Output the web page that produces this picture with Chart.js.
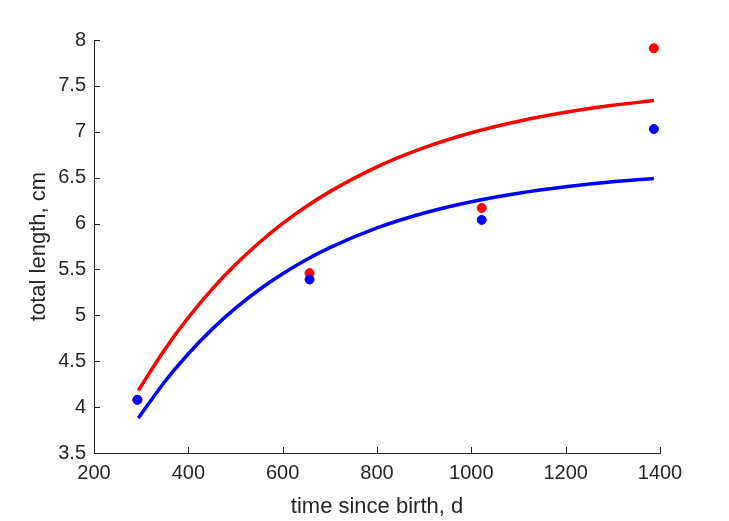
<!DOCTYPE html>
<html>
<head>
<meta charset="utf-8">
<script src="https://cdn.jsdelivr.net/npm/chart.js@4/dist/chart.umd.min.js"></script>
<style>
  html, body { margin: 0; padding: 0; background: #fff; }
  #wrap { width: 729px; height: 521px; }
</style>
</head>
<body>
<div id="wrap"><canvas id="growth-chart" width="729" height="521"></canvas></div>
<script>
// observed mean lengths at age
const sampleDays = [292, 657, 1022, 1387];
const redObserved = [4.08, 5.46, 6.17, 7.91];
const blueObserved = [4.08, 5.39, 6.04, 7.03];

// fitted growth curves
const curveDays = [294, 350, 400, 450, 500, 550, 600, 650, 700, 800, 900, 1000, 1100, 1200, 1300, 1387];
const redFit = [4.181, 4.628, 4.976, 5.283, 5.553, 5.791, 6.001, 6.186, 6.348, 6.618, 6.827, 6.989, 7.115, 7.212, 7.288, 7.340];
const blueFit = [3.880, 4.276, 4.581, 4.847, 5.078, 5.279, 5.453, 5.605, 5.737, 5.952, 6.115, 6.238, 6.331, 6.401, 6.455, 6.490];

const xTicks = [200, 400, 600, 800, 1000, 1200, 1400];
const yTicks = [3.5, 4, 4.5, 5, 5.5, 6, 6.5, 7, 7.5, 8];

const axisColor = '#262626';

function toPoints(xs, ys) {
    return xs.map((x, i) => ({ x: x, y: ys[i] }));
}

// MATLAB style ticks pointing into the plot
const innerTicks = {
    id: 'innerTicks',
    afterDraw(chart) {
        const ctx = chart.ctx;
        const xs = chart.scales.x;
        const ys = chart.scales.y;
        const len = 6;
        ctx.save();
        ctx.strokeStyle = axisColor;
        ctx.lineWidth = 1;
        ctx.beginPath();
        xTicks.forEach(v => {
            const px = Math.round(xs.getPixelForValue(v)) + 0.5;
            ctx.moveTo(px, ys.bottom);
            ctx.lineTo(px, ys.bottom - len);
        });
        yTicks.forEach(v => {
            const py = Math.round(ys.getPixelForValue(v)) + 0.5;
            ctx.moveTo(xs.left, py);
            ctx.lineTo(xs.left + len, py);
        });
        ctx.stroke();
        ctx.restore();
    }
};

const ctx = document.getElementById('growth-chart').getContext('2d');
const chart = new Chart(ctx, {
    type: 'scatter',
    data: {
        datasets: [
            {
                label: 'red observed',
                data: toPoints(sampleDays, redObserved),
                backgroundColor: '#ff0000',
                borderColor: '#ff0000',
                pointRadius: 4.5,
                order: 4,
            },
            {
                label: 'blue observed',
                data: toPoints(sampleDays, blueObserved),
                backgroundColor: '#0000ff',
                borderColor: '#0000ff',
                pointRadius: 4.5,
                order: 1,
            },
            {
                label: 'red fit',
                type: 'line',
                data: toPoints(curveDays, redFit),
                borderColor: '#ff0000',
                borderWidth: 3.5,
                pointRadius: 0,
                fill: false,
                cubicInterpolationMode: 'monotone',
                order: 3,
            },
            {
                label: 'blue fit',
                type: 'line',
                data: toPoints(curveDays, blueFit),
                borderColor: '#0000ff',
                borderWidth: 3.5,
                pointRadius: 0,
                fill: false,
                cubicInterpolationMode: 'monotone',
                order: 2,
            },
        ],
    },
    options: {
        responsive: false,
        animation: false,
        layout: { padding: { top: 40, right: 69, bottom: 0, left: 0 } },
        plugins: {
            legend: { display: false },
            tooltip: { enabled: false },
        },
        scales: {
            x: {
                type: 'linear',
                min: 200,
                max: 1400,
                afterBuildTicks: s => { s.ticks = xTicks.map(v => ({ value: v })); },
                afterFit: s => { s.height = 68; },
                grid: { display: false, drawTicks: false },
                border: { display: true, color: axisColor, width: 1 },
                ticks: {
                    padding: 8,
                    color: axisColor,
                    font: { family: 'Liberation Sans', size: 20 },
                    maxRotation: 0,
                    callback: v => String(v),
                },
                title: {
                    display: true,
                    text: 'time since birth, d',
                    color: axisColor,
                    font: { family: 'Liberation Sans', size: 22 },
                    padding: { top: 0, bottom: 1 },
                },
            },
            y: {
                type: 'linear',
                min: 3.5,
                max: 8,
                afterBuildTicks: s => { s.ticks = yTicks.map(v => ({ value: v })); },
                afterFit: s => { s.width = 94; },
                grid: { display: false, drawTicks: false },
                border: { display: true, color: axisColor, width: 1 },
                ticks: {
                    padding: 8,
                    color: axisColor,
                    font: { family: 'Liberation Sans', size: 20 },
                    callback: v => String(+v.toFixed(1)),
                },
                title: {
                    display: true,
                    text: 'total length, cm',
                    color: axisColor,
                    font: { family: 'Liberation Sans', size: 22 },
                    padding: { top: 26, bottom: 0 },
                },
            },
        },
    },
    plugins: [innerTicks],
});
</script>
</body>
</html>
